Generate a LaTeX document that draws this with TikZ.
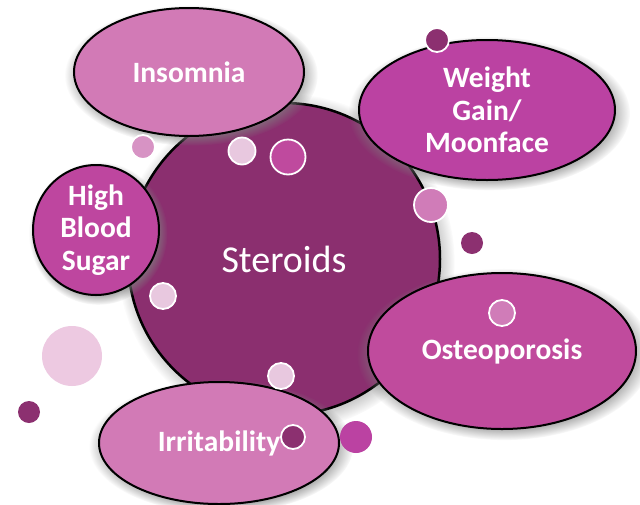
\documentclass[tikz,border=0pt]{standalone}
\usepackage{fontspec}
\setmainfont{Carlito}
\usetikzlibrary{shapes.geometric,shadows}
\definecolor{cmain}{HTML}{8B2F6F}
\definecolor{cpink}{HTML}{D27AB6}
\definecolor{cmag}{HTML}{BB42A2}
\definecolor{chbs}{HTML}{BE469F}
\definecolor{cost}{HTML}{C04B9D}
\definecolor{cdark}{HTML}{8C3070}
\definecolor{clight}{HTML}{E8C8DF}
\definecolor{cpale}{HTML}{EDC9E1}
\definecolor{cmid}{HTML}{D07CB8}
\definecolor{cdotmag}{HTML}{BF4A9E}
\tikzset{
  blob/.style={ellipse, draw=black, line width=2pt, inner sep=0pt, text=white,
    align=center, font=\fontsize{29.5}{32.5}\selectfont\bfseries,
    circular drop shadow={shadow xshift=2pt, shadow yshift=-3pt, shadow scale=1.1, opacity=0.7}},
  dot/.style={circle, inner sep=0pt, draw=white, line width=1.8pt},
  plaindot/.style={circle, inner sep=0pt}
}
\begin{document}
\begin{tikzpicture}[x=1pt,y=-1pt]
\useasboundingbox (0,0) rectangle (640,504);
\fill[white] (0,0) rectangle (640,504);
% central circle
\node[circle, draw=black, line width=2.5pt, fill=cmain, minimum size=312pt, inner sep=0pt,
  text=white, font=\fontsize{38}{42}\selectfont,
  circular drop shadow={shadow xshift=2pt, shadow yshift=-3pt, shadow scale=1.08, opacity=0.65}]
  (ster) at (284,259) {Steroids};
% satellites
\node[blob, fill=cpink, minimum width=230pt, minimum height=128pt] (ins) at (189,72) {Insomnia};
\node[blob, fill=cmag, minimum width=256pt, minimum height=140pt] (wg) at (487,110) {Weight\\Gain/\\Moonface};
\node[blob, fill=chbs, minimum width=126pt, minimum height=130pt] (hbs) at (96,230) {High\\Blood\\Sugar};
\node[blob, fill=cost, minimum width=268pt, minimum height=156pt] (ost) at (502,351) {Osteoporosis};
\node[blob, fill=cpink, minimum width=240pt, minimum height=122pt] (irr) at (219,443) {Irritability};
% small dots
\node[dot, fill=cdark, minimum size=24pt] (d1) at (437,40) {};
\node[dot, fill=cmid!70!clight, minimum size=24pt] (d2) at (143,147) {};
\node[dot, fill=clight, minimum size=27pt] (d3) at (242,151) {};
\node[dot, fill=cdotmag, minimum size=35pt] (d4) at (288,157) {};
\node[dot, fill=cmid, minimum size=34pt] (d5) at (431,205) {};
\node[plaindot, fill=cdark, minimum size=22pt] (d6) at (472,243) {};
\node[dot, fill=clight, minimum size=26pt] (d7) at (163,296) {};
\node[plaindot, fill=cpale, minimum size=60pt] (d8) at (72,356) {};
\node[plaindot, fill=cdark, minimum size=22pt] (d9) at (29,412) {};
\node[dot, fill=clight, minimum size=26pt] (d10) at (281,376) {};
\node[dot, fill=cdark, minimum size=24pt] (d11) at (293,437) {};
\node[plaindot, fill=cmag, minimum size=32pt] (d12) at (356,437) {};
\node[dot, fill=cmid, minimum size=26pt] (d13) at (502,313) {};
\end{tikzpicture}
\end{document}
